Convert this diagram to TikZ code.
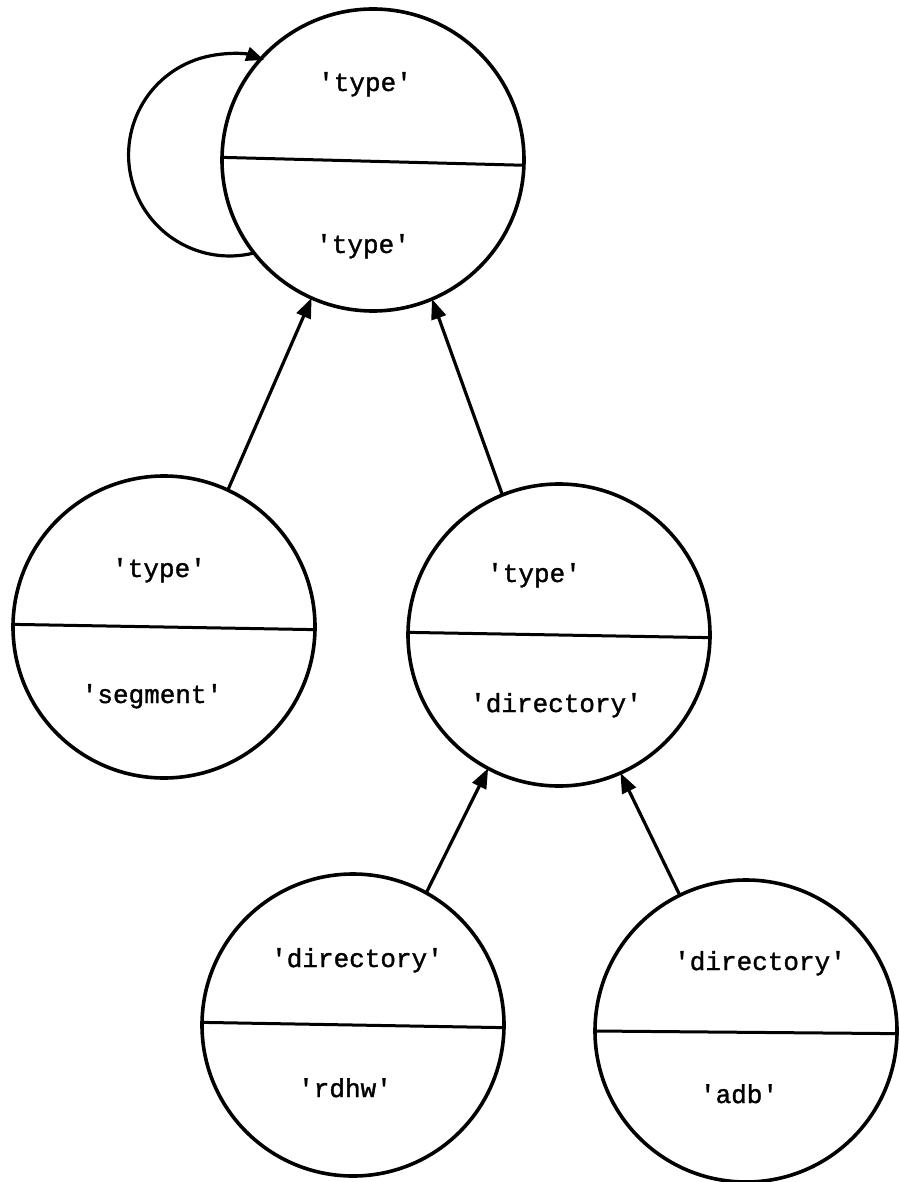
\documentclass[tikz,border=0pt]{standalone}
\usepackage{fontspec}
\newfontfamily\typewriter[FakeBold=1.3]{Liberation Mono}
\usetikzlibrary{arrows.meta}
\begin{document}
\begin{tikzpicture}[x=1pt,y=-1pt,
  rec/.style={circle,draw,line width=3.6pt,minimum size=302pt,inner sep=0pt,outer sep=0pt},
  lbl/.style={anchor=base,inner sep=0pt,font=\typewriter\fontsize{26}{26}\selectfont},
  divider/.style={line width=3pt},
  link/.style={line width=3.2pt,-{Triangle[length=20pt,width=15pt]}}]
\useasboundingbox (0,0) rectangle (899,1182);
% records
\node[rec] (T)  at (373,160)  {};
\node[rec] (M1) at (164,627)  {};
\node[rec] (M2) at (559,635)  {};
\node[rec] (B1) at (353,1025) {};
\node[rec] (B2) at (746,1031) {};
% dividers
\draw[divider] (T.179)  -- (T.-2);
\draw[divider] (M1.179) -- (M1.-1.5);
\draw[divider] (M2.179) -- (M2.-1);
\draw[divider] (B1.179) -- (B1.-1);
\draw[divider] (B2.180) -- (B2.-1.5);
% labels
\node[lbl] (t1) at (365,91)   {'type'};
\node[lbl] (t2) at (363,253)  {'type'};
\node[lbl] (m1a) at (159,577) {'type'};
\node[lbl] (m1b) at (152,703) {'segment'};
\node[lbl] (m2a) at (534,582) {'type'};
\node[lbl] (m2b) at (556,712) {'directory'};
\node[lbl] (b1a) at (357,967) {'directory'};
\node[lbl] (b1b) at (345,1097) {'rdhw'};
\node[lbl] (b2a) at (760,970) {'directory'};
\node[lbl] (b2b) at (739,1103) {'adb'};
% connectors
\draw[link] (M1.65)  -- (T.246.5);
\draw[link] (M2.112) -- (T.293);
\draw[link] (B1.61)  -- (M2.242);
\draw[link] (B2.116) -- (M2.294.5);
% self loop
\draw[line width=3.2pt,-{Triangle[length=18pt,width=14pt]}] (T.218) arc[start angle=76,end angle=290,radius=101];
\end{tikzpicture}
\end{document}
